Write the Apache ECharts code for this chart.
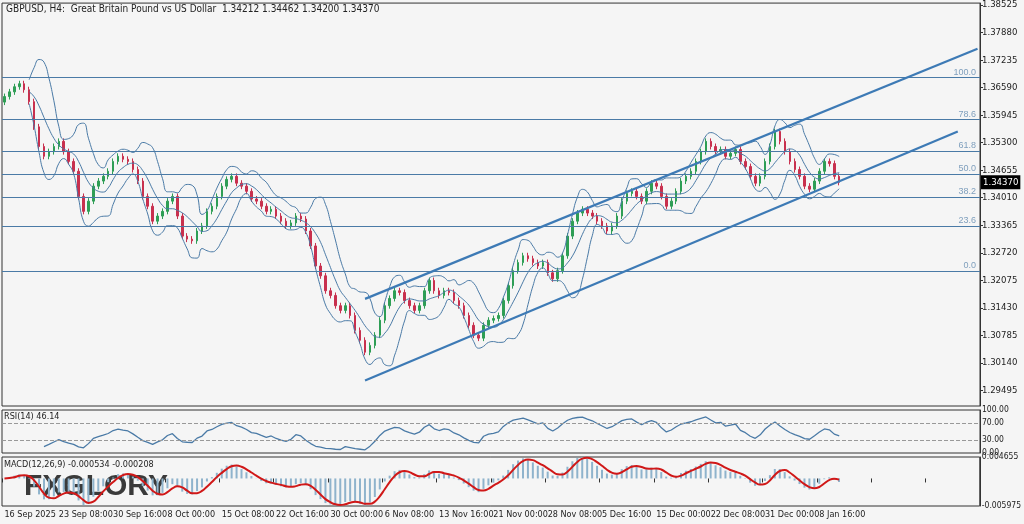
<!DOCTYPE html><html><head><meta charset="utf-8">
<script src="https://cdn.jsdelivr.net/npm/echarts@6/dist/echarts.min.js"></script>
<style>html,body{margin:0;background:#f5f5f5}#c{width:1024px;height:524px}</style></head><body><div id="c"></div>
<script>
const closes=[1.3638,1.3649,1.3661,1.3668,1.3654,1.3626,1.3567,1.3521,1.3498,1.3509,1.3521,1.3533,1.3509,1.3486,1.3463,1.3404,1.3369,1.3393,1.3428,1.3440,
1.3451,1.3463,1.3486,1.3498,1.3491,1.3486,1.3467,1.3440,1.3404,1.3381,1.3346,1.3358,1.3369,1.3393,1.3404,1.3358,1.3311,1.3304,1.3300,1.3323,
1.3335,1.3369,1.3381,1.3404,1.3428,1.3444,1.3451,1.3435,1.3428,1.3416,1.3398,1.3393,1.3381,1.3369,1.3374,1.3358,1.3346,1.3335,1.3342,1.3358,
1.3351,1.3323,1.3288,1.3241,1.3218,1.3183,1.3172,1.3148,1.3137,1.3148,1.3125,1.3090,1.3067,1.3039,1.3055,1.3079,1.3114,1.3148,1.3165,1.3183,
1.3179,1.3160,1.3148,1.3137,1.3148,1.3183,1.3207,1.3183,1.3172,1.3183,1.3179,1.3160,1.3148,1.3125,1.3102,1.3079,1.3072,1.3102,1.3114,1.3118,
1.3125,1.3160,1.3195,1.3230,1.3249,1.3265,1.3258,1.3249,1.3241,1.3249,1.3225,1.3211,1.3230,1.3265,1.3311,1.3346,1.3365,1.3374,1.3365,1.3358,
1.3346,1.3335,1.3323,1.3335,1.3358,1.3393,1.3411,1.3416,1.3404,1.3393,1.3416,1.3435,1.3428,1.3404,1.3381,1.3393,1.3416,1.3440,1.3451,1.3463,
1.3486,1.3509,1.3533,1.3521,1.3509,1.3514,1.3498,1.3505,1.3514,1.3486,1.3474,1.3451,1.3435,1.3451,1.3486,1.3521,1.3556,1.3533,1.3509,1.3486,
1.3467,1.3451,1.3428,1.3421,1.3440,1.3463,1.3486,1.3481,1.3451,1.3437];
const firstOpen=1.3625;
const tickLabels=['16 Sep 2025','23 Sep 08:00','30 Sep 16:00','8 Oct 00:00','15 Oct 08:00','22 Oct 16:00','30 Oct 00:00','6 Nov 08:00','13 Nov 16:00','21 Nov 00:00','28 Nov 08:00','5 Dec 16:00','15 Dec 00:00','22 Dec 08:00','31 Dec 00:00','8 Jan 16:00'];
const priceTicks=[1.38525,1.37880,1.37235,1.36590,1.35945,1.35300,1.34655,1.34010,1.33365,1.32720,1.32075,1.31430,1.30785,1.30140,1.29495];
const fibLevels=[[100.0,1.36822],[78.6,1.35842],[61.8,1.35095],[50.0,1.34558],[38.2,1.34021],[23.6,1.33345],[0.0,1.32294]];
const channelLower=[[73,1.2973],[193,1.3556]];
const channelUpper=[[73,1.3164],[197,1.3750]];
const lastPrice=1.34370;
const N=198;
const cats=[];for(let i=0;i<N;i++)cats.push(i);
const ohlc=closes.map((c,i)=>{const o=i?closes[i-1]:firstOpen;return [o,c,Math.min(o,c)-0.0007,Math.max(o,c)+0.0007];});
const P=6,bm=[],bu=[],bl=[];
closes.forEach((c,i)=>{if(i<P-1){bm.push('-');bu.push('-');bl.push('-');return;}
const s=closes.slice(i-P+1,i+1);const m=s.reduce((a,b)=>a+b)/P;const sd=Math.sqrt(s.reduce((a,b)=>a+(b-m)**2,0)/P);
bm.push(m);bu.push(m+2*sd);bl.push(m-2*sd);});
const rsi=[];let ag=0,al=0;const RP=8;
closes.forEach((c,i)=>{if(i===0){rsi.push('-');return;}const d=c-closes[i-1];const g=Math.max(d,0),l=Math.max(-d,0);
if(i<=RP){ag+=g/RP;al+=l/RP;}else{ag=(ag*(RP-1)+g)/RP;al=(al*(RP-1)+l)/RP;}
rsi.push(i<RP?'-':(al===0?100:100-100/(1+ag/al)));});
function ema(a,n){const k=2/(n+1);const r=[];a.forEach((v,i)=>r.push(i?v*k+r[i-1]*(1-k):v));return r;}
const e1=ema(closes,4),e2=ema(closes,10);const macd=closes.map((c,i)=>e1[i]-e2[i]);
const sig=macd.map((v,i)=>{const s=macd.slice(Math.max(0,i-2),i+1);return s.reduce((a,b)=>a+b)/s.length;});
const blue='#4a7aa6';
const ch=echarts.init(document.getElementById('c'));
const gl={left:2,right:44};
const xa=(gi,show)=>({type:'category',gridIndex:gi,data:cats,boundaryGap:true,axisLine:{show:false},axisTick:{show:show,interval:10,length:4,lineStyle:{color:'#333'}},
 axisLabel:{show:show,interval:10,fontSize:9,color:'#222',fontFamily:'DejaVu Sans Condensed',margin:4,align:'left',showMinLabel:true,hideOverlap:false,formatter:(v,i)=>tickLabels[i/11]||''},splitLine:{show:false}});
const chanStyle={lineStyle:{color:'#3d7ab5',width:2.2,type:'solid'},label:{show:false}};
const fibMarks=fibLevels.map(f=>({yAxis:f[1],label:{formatter:f[0].toFixed(1),position:'insideEndTop',color:'#7f9fbd',fontSize:9,distance:[4,1]},lineStyle:{color:blue,width:1,type:'solid'}}));
ch.setOption({animation:false,backgroundColor:'#f5f5f5',
grid:[{...gl,top:2,height:404,show:true,borderColor:'#333'},{...gl,top:410,height:43,show:true,borderColor:'#333'},{...gl,top:457,height:49,show:true,borderColor:'#333'}],
xAxis:[xa(0,false),xa(1,false),xa(2,true)],
yAxis:[{gridIndex:0,position:'right',min:1.2913,max:1.3857,splitLine:{show:false},axisLine:{show:true,lineStyle:{color:'#333'}},
 axisTick:{show:true,customValues:priceTicks,length:3},axisLabel:{customValues:priceTicks,fontSize:9.5,color:'#222',fontFamily:'DejaVu Sans Condensed',margin:2,formatter:v=>v.toFixed(5)}},
 {gridIndex:1,position:'right',min:0,max:100,splitLine:{show:false},axisLine:{show:true,lineStyle:{color:'#333'}},axisTick:{customValues:[0,30,70,100],length:3},axisLabel:{customValues:[0,30,70,100],fontSize:8.5,color:'#222',fontFamily:'DejaVu Sans Condensed',margin:2,formatter:v=>v.toFixed(2)}},
 {gridIndex:2,position:'right',min:-0.005975,max:0.004655,splitLine:{show:false},axisLine:{show:true,lineStyle:{color:'#333'}},axisTick:{customValues:[-0.005975,0.004655],length:3},axisLabel:{customValues:[-0.005975,0.004655],fontSize:8.5,color:'#222',fontFamily:'DejaVu Sans Condensed',margin:2,formatter:v=>v.toFixed(6)}}],
series:[
{type:'line',data:bu,symbol:'none',smooth:true,lineStyle:{color:blue,width:1},
 markLine:{silent:true,symbol:'none',animation:false,precision:6,data:[...fibMarks,
   [{coord:channelLower[0],...chanStyle},{coord:channelLower[1]}],
   [{coord:channelUpper[0],...chanStyle},{coord:channelUpper[1]}]]}},
{type:'line',data:bm,symbol:'none',smooth:true,lineStyle:{color:blue,width:1}},
{type:'line',data:bl,symbol:'none',smooth:true,lineStyle:{color:blue,width:1}},
{type:'candlestick',data:ohlc,barWidth:2,itemStyle:{color:'#2e9e55',color0:'#c8304e',borderColor:'#2e9e55',borderColor0:'#c8304e',borderWidth:1},
 markLine:{silent:true,symbol:'none',animation:false,precision:6,data:[{yAxis:lastPrice,lineStyle:{color:'rgba(0,0,0,0)',width:0},
  label:{position:'end',formatter:lastPrice.toFixed(5),backgroundColor:'#000',color:'#fff',fontSize:9.5,fontFamily:'DejaVu Sans Condensed',padding:[2,2],distance:1}}]}},
{type:'line',xAxisIndex:1,yAxisIndex:1,data:rsi,symbol:'none',lineStyle:{color:'#4a7aa6',width:1.3},
 markLine:{silent:true,symbol:'none',label:{show:false},data:[{yAxis:30},{yAxis:70}],lineStyle:{color:'#999',type:'dashed',width:1}}},
{type:'bar',xAxisIndex:2,yAxisIndex:2,data:macd,barWidth:2,itemStyle:{color:'#8fb3cc'}},
{type:'line',xAxisIndex:2,yAxisIndex:2,data:sig,symbol:'none',smooth:true,lineStyle:{color:'#d01818',width:2}}],
graphic:[
{type:'text',left:6,top:4,style:{text:'GBPUSD, H4:  Great Britain Pound vs US Dollar  1.34212 1.34462 1.34200 1.34370',fontSize:10,fill:'#222',fontFamily:'DejaVu Sans Condensed'}},
{type:'text',left:4,top:412,style:{text:'RSI(14) 46.14',fontSize:9,fill:'#222',fontFamily:'DejaVu Sans Condensed'}},
{type:'text',left:4,top:460,style:{text:'MACD(12,26,9) -0.000534 -0.000208',fontSize:9,fill:'#222',fontFamily:'DejaVu Sans Condensed'}},
{type:'text',left:24,top:472,style:{text:'FXGLORY',fontSize:30,fontWeight:'bold',fill:'#3a3a3a',fontFamily:'Liberation Sans'}}
]});
</script></body></html>
